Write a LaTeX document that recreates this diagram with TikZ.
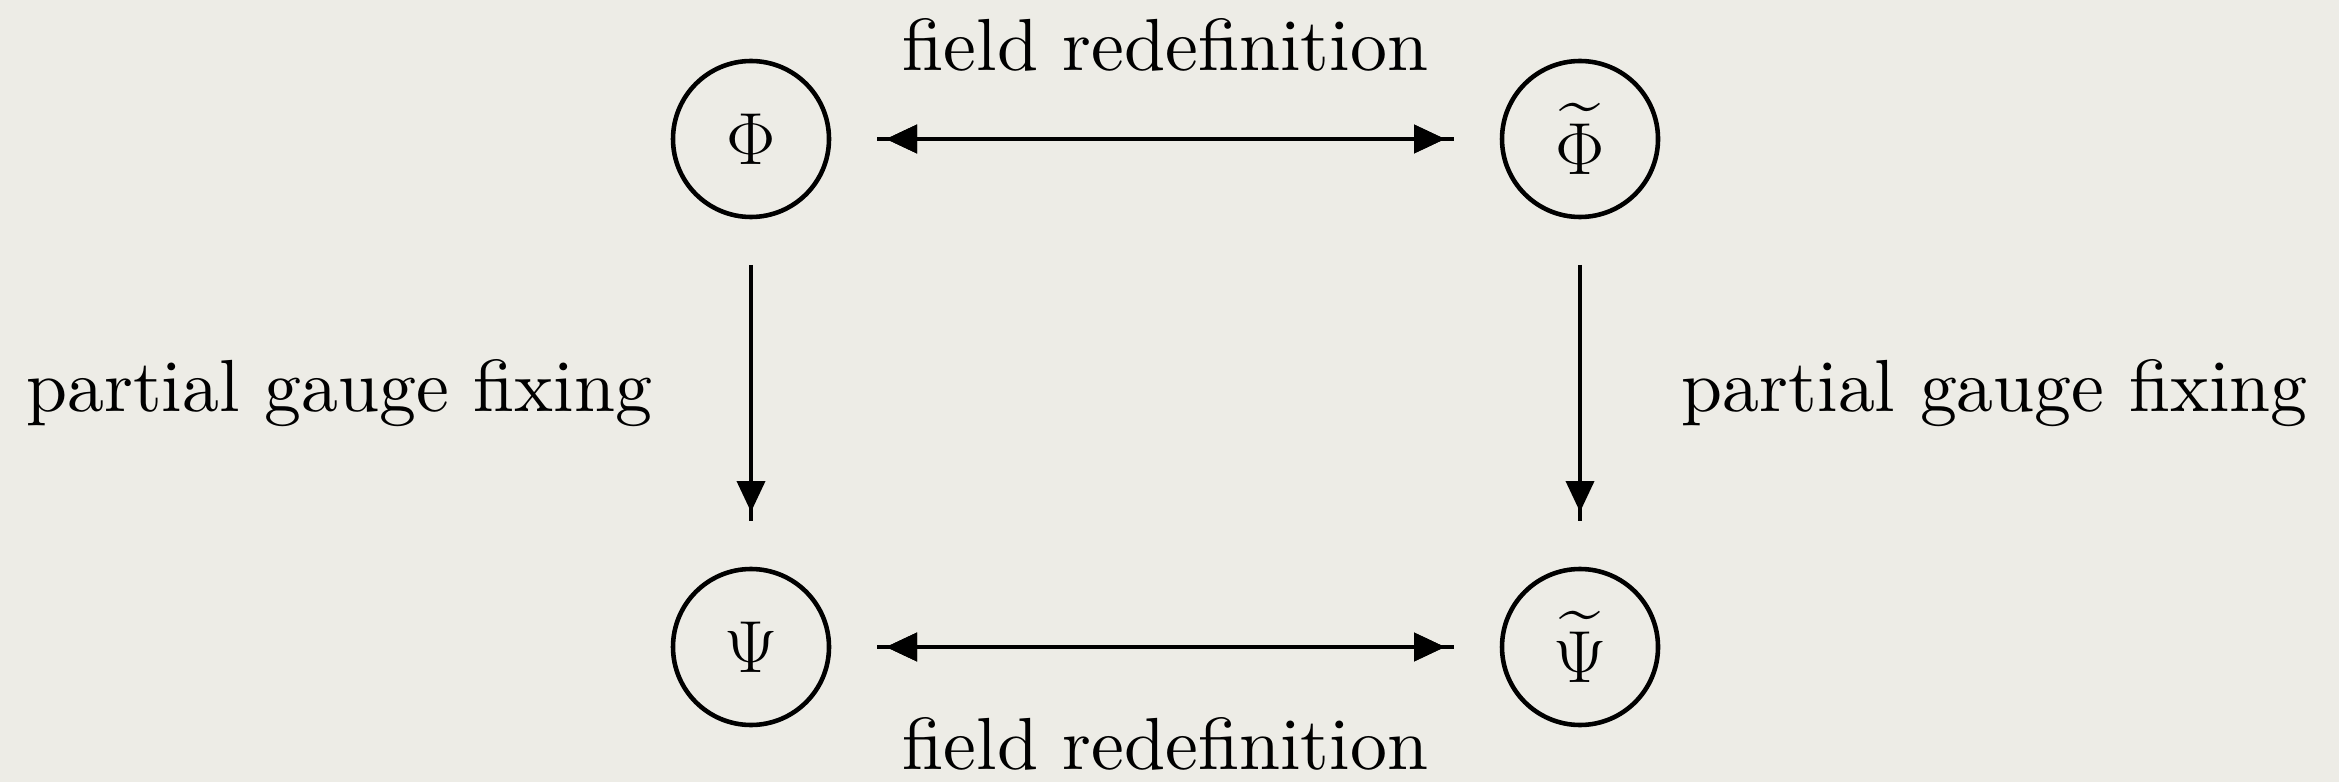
\RequirePackage{fix-cm}
\documentclass[tikz,border=0pt]{standalone}
\usepackage{amsmath}
\usepackage{amssymb}
\usepackage{fontspec}
\setmainfont{lmroman10-regular}[Extension=.otf]
\usetikzlibrary{arrows.meta}
\usetikzlibrary{shapes, decorations.markings}
\definecolor{paper}{RGB}{237,236,230}

\begin{document}
\begin{tikzpicture}[every node/.style={font=\fontsize{21}{25}\selectfont},
				   field/.style={circle, draw=black, line width=1.3pt, minimum size=1.56cm, inner sep=0pt, outer sep=0.48cm},
				   lbl/.style={inner sep=0pt},
				   tipr/.style={decoration={markings, mark=at position -0.09cm with {\arrow{Triangle[length=0.31cm, width=0.28cm]}}}, postaction={decorate}},
				   tipl/.style={decoration={markings, mark=at position 0.09cm with {\arrowreversed{Triangle[length=0.31cm, width=0.28cm]}}}, postaction={decorate}},
				   conn/.style={line width=1.1pt}]
\fill[paper] (0,0) rectangle (23.39,7.82);
\useasboundingbox (0,0) rectangle (23.39,7.82);

\node[field] (Phi) at (7.51,6.43) {$\Phi$};
\node[field] (tPhi) at (15.80,6.43) {$\widetilde{\Phi}$};
\node[field] (Psi) at (7.51,1.35) {$\Psi$};
\node[field] (tPsi) at (15.80,1.35) {$\widetilde{\Psi}$};

\draw[conn, tipl, tipr] (Phi) -- node[lbl, midway, above=0.66cm] {field redefinition} (tPhi);
\draw[conn, tipl, tipr] (Psi) -- node[lbl, midway, below=0.69cm] {field redefinition} (tPsi);
\draw[conn, tipr] (Phi) -- node[lbl, midway, left=0.97cm] {partial gauge fixing} (Psi);
\draw[conn, tipr] (tPhi) -- node[lbl, midway, right=1cm] {partial gauge fixing} (tPsi);
\end{tikzpicture}
\end{document}
